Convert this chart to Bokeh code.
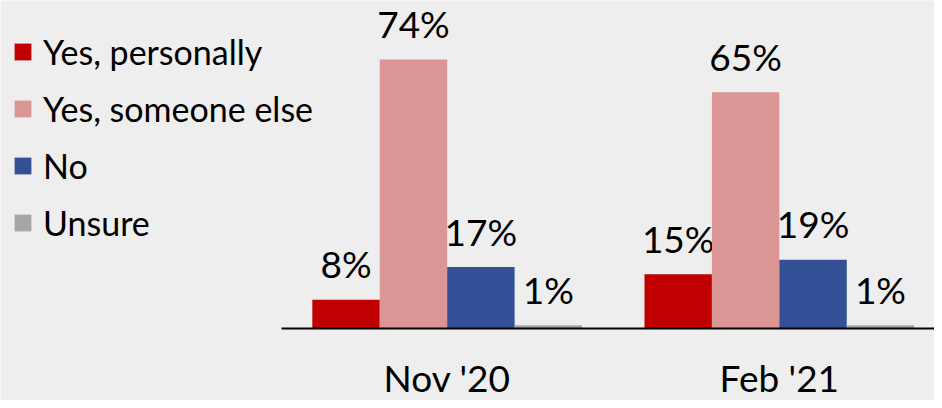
from bokeh.plotting import figure
from bokeh.models import ColumnDataSource, Range1d, FixedTicker
from bokeh.transform import dodge
from bokeh.core.properties import value
from bokeh.embed import file_html
from bokeh.resources import INLINE

categories = ["Nov '20", "Feb '21"]
series_names = ["Yes, personally", "Yes, someone else", "No", "Unsure"]
yes_personally = [8, 15]
yes_someone_else = [74, 65]
no = [17, 19]
unsure = [1, 1]
colors = ["#C00000", "#DA9694", "#335096", "#A6A6A6"]

FONT = "Lato"
BG = "#EEEEEE"

W, H = 934, 400
SX, SY = W / 942.0, H / 408.0
group_px = 335.0 * SX
px_per_pct = 3.715 * SY
base_px = 335.0 * SY
left_px = 283.0 * SX
xc = [i + 0.5 for i in range(len(categories))]
bar_w = 68.0 / 335.0

p = figure(width=W, height=H, output_backend="svg", toolbar_location=None,
           x_range=Range1d(-left_px / group_px, (W - left_px) / group_px),
           y_range=Range1d(-(H - base_px) / px_per_pct, base_px / px_per_pct),
           y_axis_location=None,
           min_border_left=0, min_border_right=0, min_border_top=0, min_border_bottom=0)
p.background_fill_color = BG
p.border_fill_color = BG
p.outline_line_color = None
p.grid.visible = False

all_series = [yes_personally, yes_someone_else, no, unsure]
for k, (name, vals, col) in enumerate(zip(series_names, all_series, colors)):
    off = (k - 1.5) * bar_w
    src = ColumnDataSource(dict(x=xc, top=vals, label=[f"{v}%" for v in vals]))
    p.vbar(x=dodge("x", off, range=p.x_range), top="top", width=bar_w, bottom=0,
           source=src, fill_color=col, line_color=None, legend_label=name)
    p.text(x=dodge("x", off, range=p.x_range), y="top", text="label", source=src,
           text_align="center", text_baseline="alphabetic", y_offset=-36,
           text_font=value(FONT), text_font_size="37px", text_color="#000000")

ax = p.xaxis[0]
ax.fixed_location = 0
ax.bounds = (0, len(categories))
ax.ticker = FixedTicker(ticks=xc)
ax.major_label_overrides = {x: c for x, c in zip(xc, categories)}
ax.major_tick_line_color = None
ax.major_tick_out = 0
ax.major_tick_in = 0
ax.minor_tick_line_color = None
ax.minor_tick_out = 0
ax.axis_line_color = "#000000"
ax.axis_line_width = 2
ax.major_label_text_font = FONT
ax.major_label_text_font_size = "37px"
ax.major_label_text_color = "#000000"
ax.major_label_standoff = 26

lg = p.legend[0]
lg.location = (12, 156)
lg.border_line_color = None
lg.background_fill_alpha = 0
lg.padding = 0
lg.margin = 0
lg.glyph_width = 21
lg.glyph_height = 21
lg.label_standoff = 10
lg.label_height = 44
lg.spacing = 13
lg.label_text_font = FONT
lg.label_text_font_size = "34px"
lg.label_text_color = "#000000"

html = file_html(p, INLINE)
html = html.replace("<body>", '<body style="background-color:#EEEEEE;">', 1)
open("out.html", "w").write(html)
